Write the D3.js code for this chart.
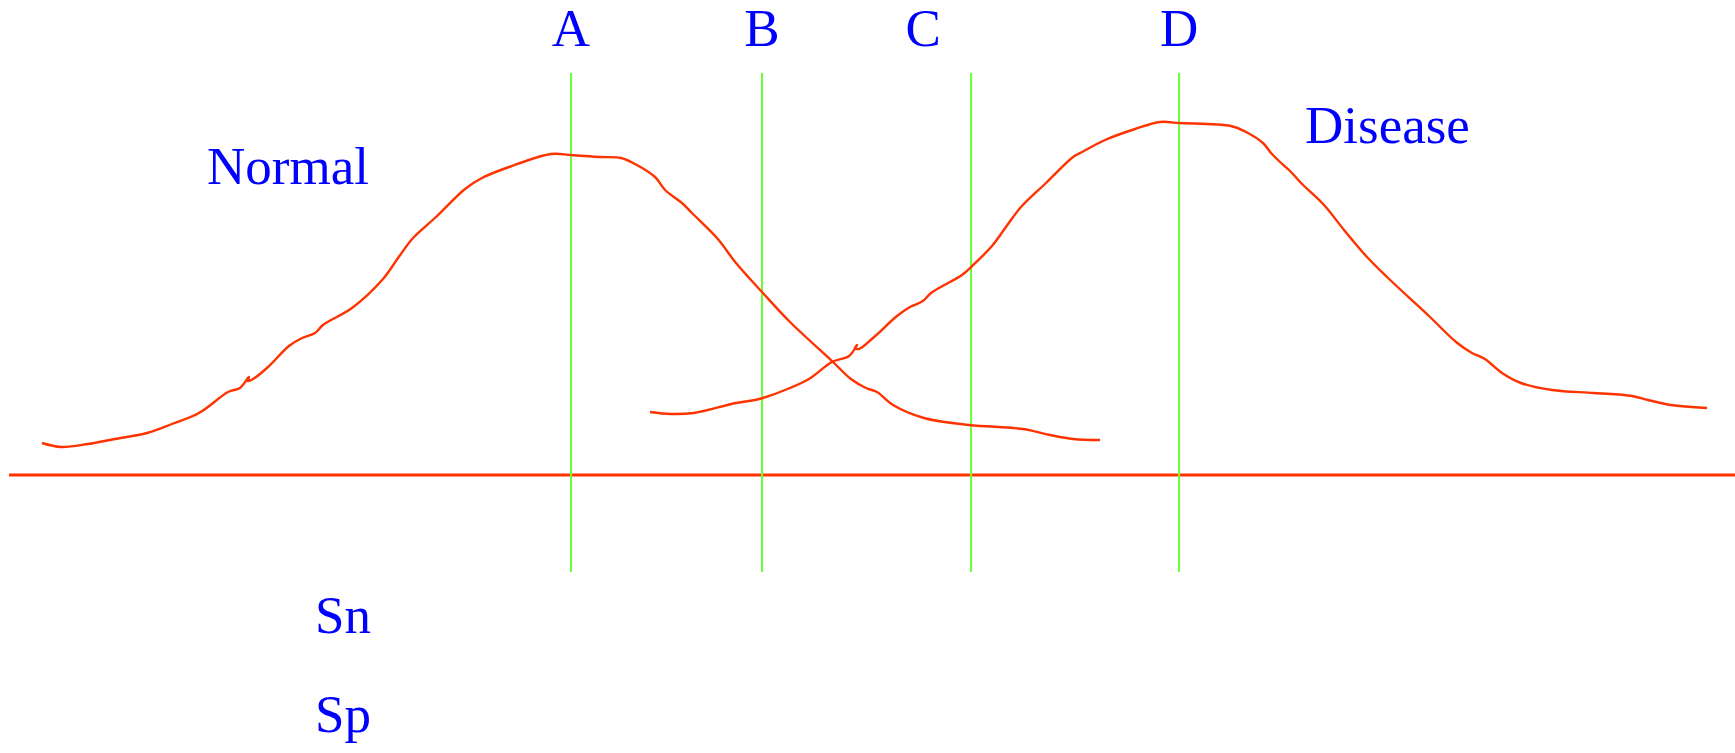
<!DOCTYPE html>
<html>
<head>
<meta charset="utf-8">
<script src="https://cdn.jsdelivr.net/npm/d3@7"></script>
<style>
  html, body { margin: 0; padding: 0; background: #fff; }
  svg { display: block; }
  .label { font-family: "Liberation Serif", "Times New Roman", serif; font-size: 53px; fill: #0000ff; }
</style>
</head>
<body>
<svg class="svg-contents" width="1735" height="753" viewBox="0 0 1735 753"></svg>
<script>
  "use strict";

  // test value (x, 0..1000) and frequency (y)
  const normalX = [19.1, 30.1, 45.8, 61.4, 80.0, 94.4, 110.1, 126.9, 133.8, 139.0, 138.5, 141.4,
    150.1, 162.2, 169.8, 177.3, 181.9, 198.7, 216.7, 225.4, 234.1, 247.4, 264.2, 274.0, 289.7,
    314.0, 325.6, 342.4, 354.6, 363.8, 374.3, 380.1, 389.9, 395.7, 410.2, 421.2, 436.8, 452.5,
    476.8, 487.8, 496.5, 502.9, 512.2, 530.1, 556.2, 587.5, 603.1, 616.5, 632.1];
  const normalY = [32, 28, 31, 36, 42, 51, 62, 83, 87, 98, 94, 96,
    108, 129, 137, 142, 150, 167, 196, 217, 237, 258, 286, 297, 308,
    321, 320, 318, 317, 310, 298, 285, 272, 262, 237, 212, 182, 153,
    114, 96, 87, 83, 70, 57, 50, 46, 40, 36, 35];

  const diseaseX = [371.4, 383.5, 396.9, 421.2, 432.2, 436.8, 452.5, 463.5, 476.8, 486.7, 491.3, 490.2,
    492.5, 501.2, 514.5, 522.0, 529.5, 534.2, 552.1, 557.4, 569.5, 577.6, 586.3, 600.8, 616.5,
    621.7, 635.0, 652.4, 666.9, 677.9, 708.0, 716.7, 726.5, 731.2, 735.8, 742.2, 748.6, 761.9,
    773.5, 786.8, 799.0, 823.3, 838.4, 847.6, 855.1, 865.0, 876.0, 894.0, 918.3, 940.3, 949.6,
    962.9, 983.8];
  const diseaseY = [63, 61, 62, 72, 75, 77, 87, 96, 113, 119, 130, 127,
    126, 138, 159, 168, 174, 182, 200, 208, 229, 248, 268, 292, 318,
    323, 335, 346, 353, 352, 349, 343, 332, 322, 314, 304, 292, 270,
    245, 218, 197, 158, 133, 122, 116, 102, 92, 85, 82, 79, 75,
    70, 67];

  const cutoffNames = ['A', 'B', 'C', 'D'];
  const cutoffX = [325.6, 436.3, 557.4, 677.9];

  const curveNames = ['Normal', 'Disease'];
  const rowNames = ['Sn', 'Sp'];

  init();

  function init() {
    let svg = d3.select('.svg-contents'),
      width = +svg.attr('width'),
      paddingLeft = 9,
      red = '#ff3300',
      green = '#66ff33';

    let scaleX = d3.scaleLinear()
      .domain([0, 1000])
      .range([paddingLeft, width]);

    let scaleY = d3.scaleLinear()
      .domain([0, 400])
      .range([475, 75]);

    svg.append('rect')
      .attr('width', width)
      .attr('height', 753)
      .attr('fill', '#fff');

    /*
     * baseline
     */
    svg.append('line')
      .attr('x1', scaleX(0))
      .attr('x2', scaleX(1000))
      .attr('y1', scaleY(0))
      .attr('y2', scaleY(0))
      .attr('stroke', red)
      .attr('stroke-width', 2.8);

    /*
     * cut-off lines
     */
    svg.append('g')
      .attr('class', 'cutoffs')
      .selectAll('line')
      .data(cutoffX)
      .enter()
      .append('line')
      .attr('x1', function (d) { return scaleX(d); })
      .attr('x2', function (d) { return scaleX(d); })
      .attr('y1', scaleY(402))
      .attr('y2', scaleY(-97))
      .attr('stroke', green)
      .attr('stroke-width', 2);

    /*
     * distributions
     */
    let line = d3.line()
      .x(function (d) { return scaleX(d[0]); })
      .y(function (d) { return scaleY(d[1]); })
      .curve(d3.curveCatmullRom.alpha(0.5));

    let series = [d3.zip(normalX, normalY), d3.zip(diseaseX, diseaseY)];

    svg.append('g')
      .attr('class', 'curves')
      .selectAll('path')
      .data(series)
      .enter()
      .append('path')
      .attr('d', line)
      .attr('fill', 'none')
      .attr('stroke', red)
      .attr('stroke-width', 2.4)
      .attr('stroke-linejoin', 'round');

    /*
     * labels
     */
    let shiftC = { C: -48 }; // the C label sits left of its line
    svg.append('g')
      .selectAll('text')
      .data(cutoffNames)
      .enter()
      .append('text')
      .attr('class', 'label')
      .attr('text-anchor', 'middle')
      .attr('x', function (d, i) { return scaleX(cutoffX[i]) + (shiftC[d] || 0); })
      .attr('y', 46)
      .text(function (d) { return d; });

    let curveLabelPos = [[207, 184], [1305, 143]];
    svg.append('g')
      .selectAll('text')
      .data(curveNames)
      .enter()
      .append('text')
      .attr('class', 'label')
      .attr('x', function (d, i) { return curveLabelPos[i][0]; })
      .attr('y', function (d, i) { return curveLabelPos[i][1]; })
      .text(function (d) { return d; });

    svg.append('g')
      .selectAll('text')
      .data(rowNames)
      .enter()
      .append('text')
      .attr('class', 'label')
      .attr('x', 315)
      .attr('y', function (d, i) { return 633 + i * 99; })
      .text(function (d) { return d; });
  }
</script>
</body>
</html>
